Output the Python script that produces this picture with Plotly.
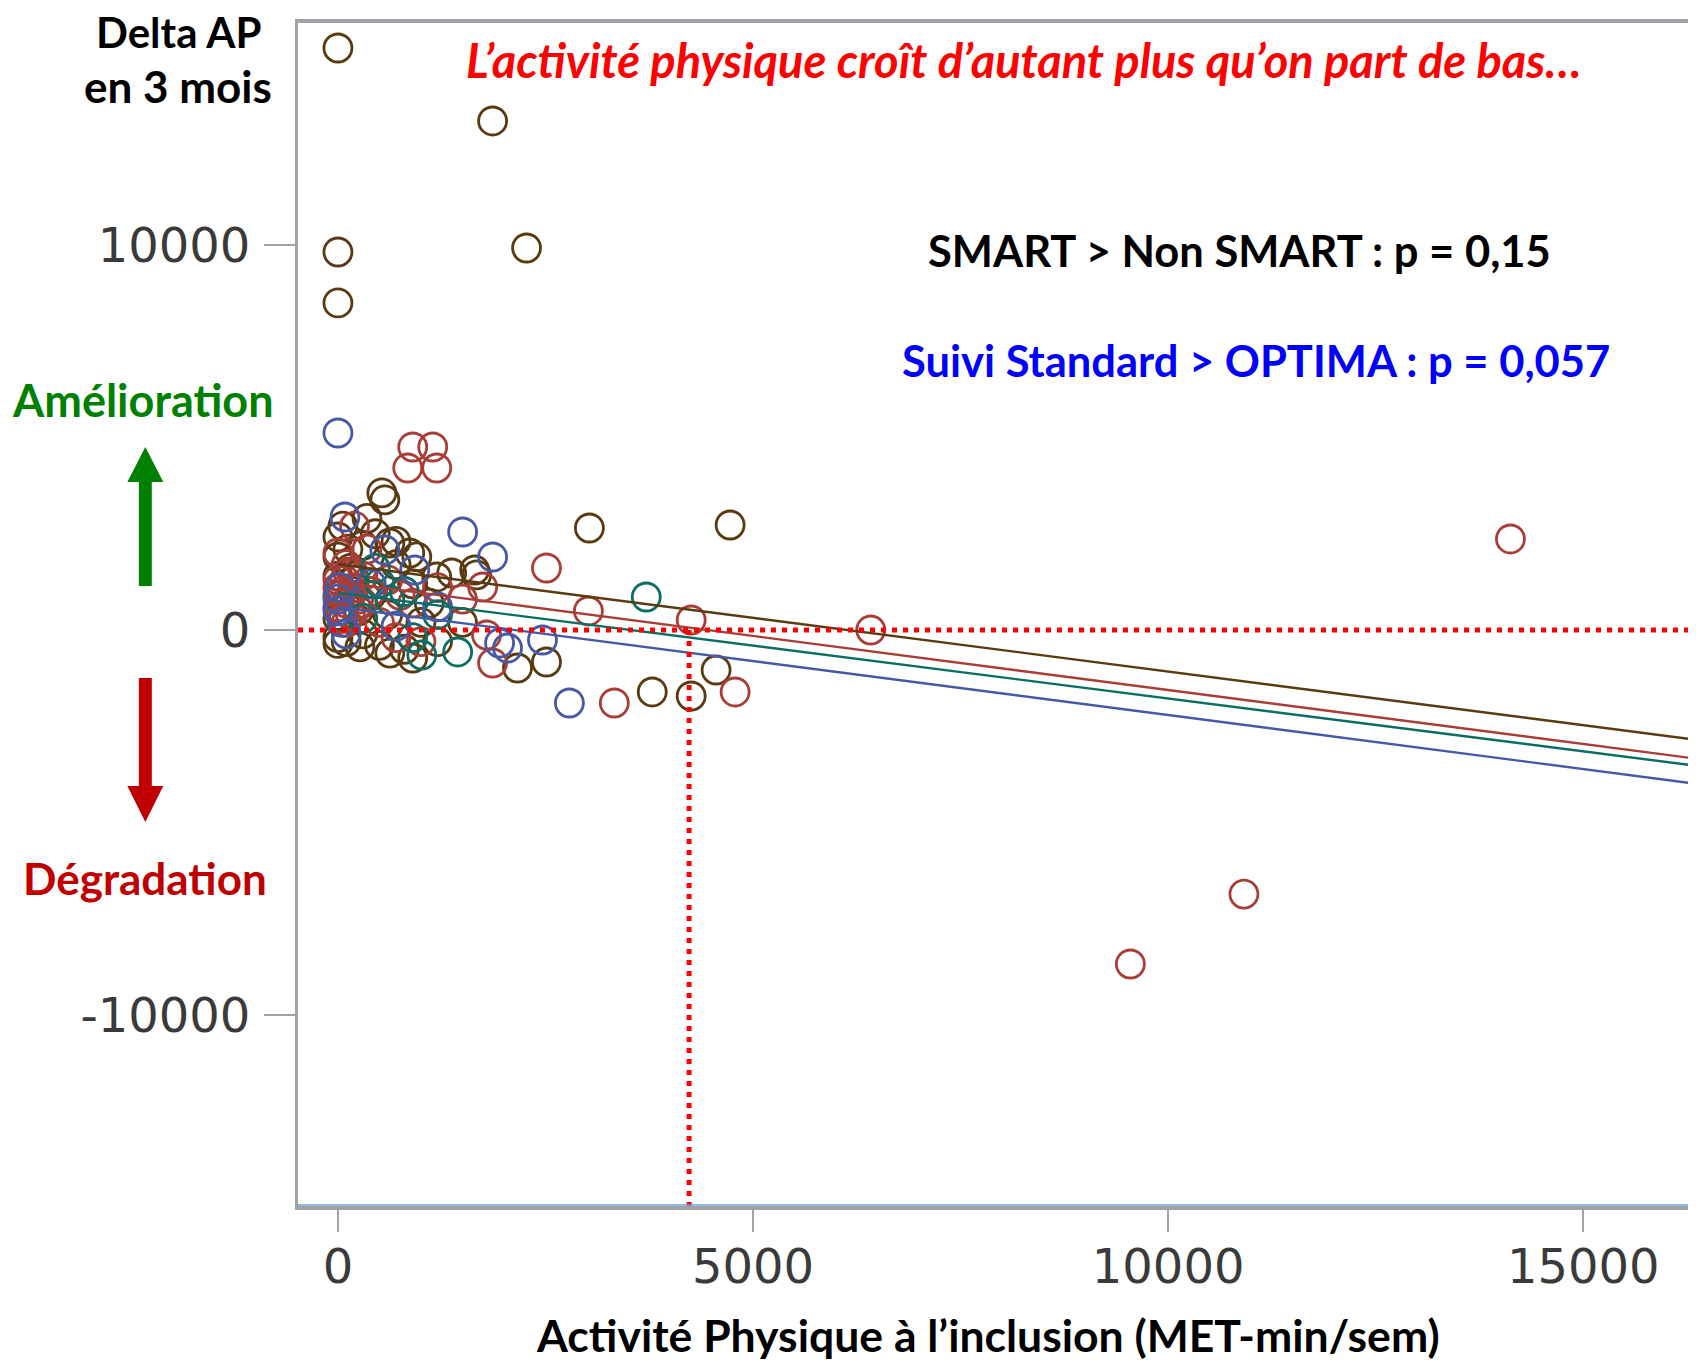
import plotly.graph_objects as go

# ---------------- data ----------------
brown_x = [0, 1863, 0, 2272, 0, 4724, 3029, 4555, 4255, 3786, 2512, 2163, 529, 565,
           0, 0, 0, 0, 0, 865, 1670, 1370, 700, 300, 200, 400, 600, 300, 500, 800,
           1200, 1000, 100, 250, 150, 900, 1100, 450, 700, 0, 350, 1500, 60, 180,
           1647, 1190, 625, 950, 265, 625, 901, 0, 120]
brown_y = [15117, 13221, 9818, 9922, 8494, 2727, 2649, -1039, -1714, -1610, -831, -987,
           3560, 3380, 2416, 1896, 1400, 900, 300, 2000, 1430, 1480, 1700, 2200, 1300,
           900, 400, -100, -400, -500, -300, 200, -300, 500, 1600, 1200, 700, 2500, 2300,
           -200, 2900, 200, 2700, 1000, 1558, 1377, 2260, 1900, -440, -600, -727, -350, 2100]

red_x = [14123, 10913, 9545, 6418, 4255, 4784, 3329, 2512, 3017, 1863, 901, 1142, 841,
         1190, 0, 50, 100, 150, 0, 200, 250, 100, 300, 400, 600, 750, 900, 1200, 1743,
         1790, 500, 700, 350, 200, 0, 1500, 1000, 120, 60, 30, 0, 80, 150, 220, 40, 180,
         300, 100]
red_y = [2364, -6860, -8675, 0, 260, -1610, -1896, 1610, 494, -857, 4753, 4753, 4208,
         4208, 1300, 1000, 700, 400, 600, 1100, 800, 1700, 1400, 1000, 1300, 900, 700,
         1100, 1117, -130, 200, -200, 2100, 2700, 2000, 800, -300, 1500, 300, 900, 1100,
         1300, 900, 600, 500, 1500, 700, 200]

teal_x = [3714, 1442, 1010, 625, 505, 800, 1200, 300, 900, 450]
teal_y = [857, -571, -650, 780, 1220, 1000, 400, 300, -200, 1600]

blue_x = [0, 84, 1502, 1863, 2788, 2464, 2043, 1947, 565, 925, 0, 50, 100, 0, 400,
          1200, 700, 30]
blue_y = [5117, 2935, 2545, 1896, -1896, -260, -468, -338, 2078, 1558, 500, 200,
          -100, 800, 1200, 600, 100, 1100]

# fitted lines: values at start / end of the x range
reg_x = [0, 16300]
reg_brown = [1709, -2835]
reg_red = [1248, -3326]
reg_teal = [969, -3510]
reg_blue = [598, -3977]

x_ticks = [0, 5000, 10000, 15000]
y_ticks = [-10000, 0, 10000]
x_range = [-481, 16286]
y_range = [-14961, 15766]
ref_y = 0        # horizontal reference (no change)
ref_x = 4230     # vertical reference

# ---------------- styling ----------------
C_BROWN = "#5a3a10"
C_RED = "#a83e37"
C_TEAL = "#0a6e64"
C_BLUE = "#4659a5"
FONT = "Lato"

W, H = 1696, 1360
OFF = 8  # page body margin of the html page
PL, PR, PT, PB = 298, 1693, 23, 1206


def px(x):
    return (x - PL) / (PR - PL)


def py(y):
    return (PB - y) / (PB - PT)


fig = go.Figure()

groups = [
    ("SMART – Suivi standard", brown_x, brown_y, reg_brown, C_BROWN),
    ("SMART – OPTIMA", red_x, red_y, reg_red, C_RED),
    ("Non SMART – Suivi standard", teal_x, teal_y, reg_teal, C_TEAL),
    ("Non SMART – OPTIMA", blue_x, blue_y, reg_blue, C_BLUE),
]

for name, gx, gy, reg, col in groups:
    fig.add_trace(go.Scatter(
        x=gx, y=gy, mode="markers", name=name,
        marker=dict(symbol="circle-open", size=28, color=col, line=dict(width=2.8, color=col)),
        showlegend=False, cliponaxis=True,
    ))

for name, gx, gy, reg, col in groups:
    fig.add_trace(go.Scatter(
        x=reg_x, y=reg, mode="lines", name=name + " (régression)",
        line=dict(color=col, width=2.4), showlegend=False,
    ))

shapes = []
# red dotted reference lines
shapes.append(dict(type="line", xref="paper", yref="y", x0=0, x1=1, y0=ref_y, y1=ref_y,
                   line=dict(color="#ff0000", width=5, dash="5px,6px"), layer="above"))
shapes.append(dict(type="line", xref="x", yref="y", x0=ref_x, x1=ref_x, y0=ref_y, y1=y_range[0],
                   line=dict(color="#ff0000", width=5, dash="5px,6px"), layer="above"))
# thin blue line along bottom axis
shapes.append(dict(type="line", xref="paper", yref="paper", x0=0, x1=1, y0=py(PB - 1), y1=py(PB - 1),
                   line=dict(color="#6fa3d8", width=1.5), layer="above"))


def arrow_path(cx, tip, base, end, head_hw, shaft_hw):
    pts = [(cx, tip), (cx + head_hw, base), (cx + shaft_hw, base), (cx + shaft_hw, end),
           (cx - shaft_hw, end), (cx - shaft_hw, base), (cx - head_hw, base)]
    return "M " + " L ".join(f"{px(a):.5f},{py(b):.5f}" for a, b in pts) + " Z"


shapes.append(dict(type="path", xref="paper", yref="paper",
                   path=arrow_path(145, 447, 482, 586, 18, 6.5),
                   fillcolor="#008000", line=dict(width=0)))
shapes.append(dict(type="path", xref="paper", yref="paper",
                   path=arrow_path(145, 822, 786, 678, 18, 6.5),
                   fillcolor="#c00000", line=dict(width=0)))

annotations = []


def add_text(text, x, y, size, color, italic=False, xanchor="center"):
    t = f"<b>{text}</b>"
    if italic:
        t = f"<i>{t}</i>"
    annotations.append(dict(text=t, x=px(x), y=py(y), xref="paper", yref="paper",
                            showarrow=False, xanchor=xanchor, yanchor="middle",
                            font=dict(family=FONT, size=size, color=color)))


add_text("Delta AP", 178, 32, 42, "#000000")
add_text("en 3 mois", 178, 86, 44, "#000000")
add_text("Amélioration", 143, 400, 45, "#008000")
add_text("Dégradation", 145, 878, 44, "#c00000")
add_text("L’activité physique croît d’autant plus qu’on part de bas…", 1026, 60, 47, "#ff0000", italic=True)
add_text("SMART > Non SMART : p = 0,15", 1242, 250, 43.5, "#000000")
add_text("Suivi Standard > OPTIMA : p = 0,057", 1258, 360, 43.5, "#0000ff")
add_text("Activité Physique à l’inclusion (MET-min/sem)", 989, 1334, 44.5, "#000000")

fig.update_layout(
    width=W, height=H,
    margin=dict(l=PL - OFF, r=W - PR + OFF, t=PT - OFF, b=H - PB + OFF, pad=0),
    paper_bgcolor="white", plot_bgcolor="white",
    shapes=shapes, annotations=annotations, showlegend=False,
)

tick_font = dict(family="DejaVu Sans", size=48, color="#3a3a3a")
fig.update_xaxes(range=x_range, tickvals=x_ticks, ticktext=[str(v) for v in x_ticks],
                 showgrid=False, zeroline=False, showline=True, linecolor="#9fa3a7",
                 linewidth=4, mirror=True, ticks="outside", ticklen=22, tickwidth=2,
                 tickcolor="#9fa3a7", tickfont=tick_font, ticklabelstandoff=-7)
fig.update_yaxes(range=y_range, tickvals=y_ticks, ticktext=[str(v) for v in y_ticks],
                 showgrid=False, zeroline=False, showline=True, linecolor="#9fa3a7",
                 linewidth=3, mirror=True, ticks="outside", ticklen=31, tickwidth=2,
                 tickcolor="#9fa3a7", tickfont=tick_font, ticklabelstandoff=4)

fig.write_html("out.html")
